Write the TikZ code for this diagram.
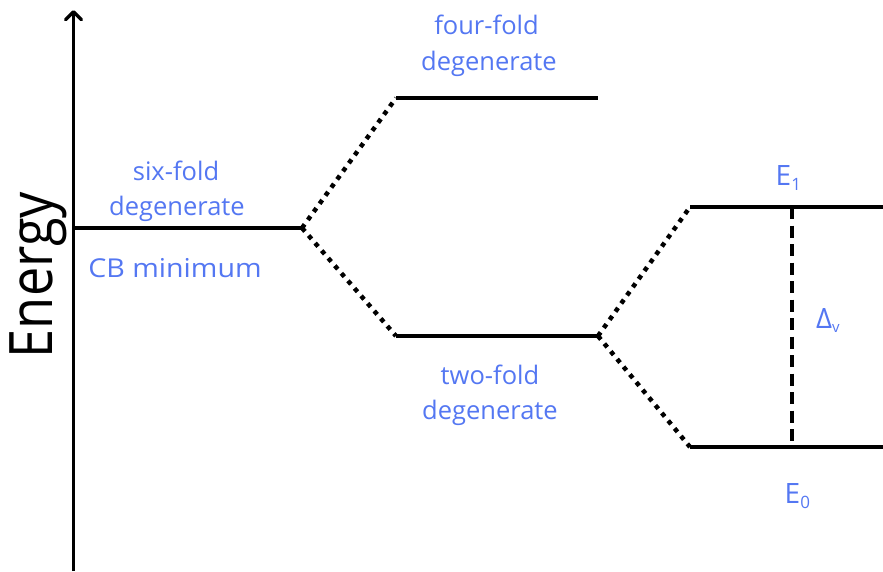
\documentclass[tikz,border=0pt]{standalone}
\usepackage{fontspec}
\setmainfont{Open Sans}
\usetikzlibrary{arrows.meta}
\definecolor{lblue}{RGB}{84,119,242}
\newcommand{\sbs}[2]{\raisebox{-#1pt}{\fontsize{17}{17}\selectfont #2}}
\begin{document}
\begin{tikzpicture}[x=1pt,y=-1pt,
  level/.style={line width=4.8pt},
  split/.style={line width=4.5pt,dash pattern=on 4.5pt off 5.5pt},
  gap/.style={line width=4.5pt,dash pattern=on 12pt off 6.5pt},
  lbl/.style={text=lblue,font=\fontsize{25.5}{30}\selectfont,inner sep=0pt,anchor=base},
  big/.style={text=lblue,font=\fontsize{28}{32}\selectfont,inner sep=0pt,anchor=base west}]
\useasboundingbox (0,0) rectangle (883,571);
% axis
\coordinate (ab) at (73.5,571);
\coordinate (at) at (73.5,10);
\draw[line width=3.5pt,line join=round,-{Straight Barb[length=8pt,width=16pt,line width=3.5pt,line join=round,line cap=round]}] (ab) -- (at);
\node[rotate=90,anchor=base,inner sep=0pt,font=\fontsize{60}{64}\selectfont] (en) at (52,275) {\scalebox{0.87}[1]{Energy}};
% levels
\coordinate (a1) at (73,228);   \coordinate (a2) at (302,228);
\coordinate (b1) at (396,98);   \coordinate (b2) at (598,98);
\coordinate (c1) at (396,336);  \coordinate (c2) at (598,336);
\coordinate (d1) at (690,207);  \coordinate (d2) at (883,207);
\coordinate (e1) at (690,447);  \coordinate (e2) at (883,447);
\coordinate (g1) at (792,207);  \coordinate (g2) at (792,447);
\draw[level] (a1) -- (a2);
\draw[level] (b1) -- (b2);
\draw[level] (c1) -- (c2);
\draw[level] (d1) -- (d2);
\draw[level] (e1) -- (e2);
\draw[split] (a2) -- (b1);
\draw[split] (a2) -- (c1);
\draw[split] (c2) -- (d1);
\draw[split] (c2) -- (e1);
\draw[gap] (g1) -- (g2);
% labels
\node[lbl] (t1) at (176,180) {six-fold};
\node[lbl] (t2) at (177,215) {degenerate};
\node[lbl,font=\fontsize{26}{30}\selectfont] (t3) at (175,277) {\scalebox{1.1}[1]{CB minimum}};
\node[lbl] (t4) at (486.5,34) {four-fold};
\node[lbl] (t5) at (489,70) {degenerate};
\node[lbl] (t6) at (490,384) {two-fold};
\node[lbl] (t7) at (490,419) {degenerate};
\node[big] (E1) at (775.5,185) {E\sbs{5.7}{1}};
\node[big] (E0) at (784.5,503) {E\sbs{5}{0}};
\node[big] (dv) at (816,328) {Δ\raisebox{-4pt}{\fontsize{15}{15}\selectfont v}};
\end{tikzpicture}
\end{document}
